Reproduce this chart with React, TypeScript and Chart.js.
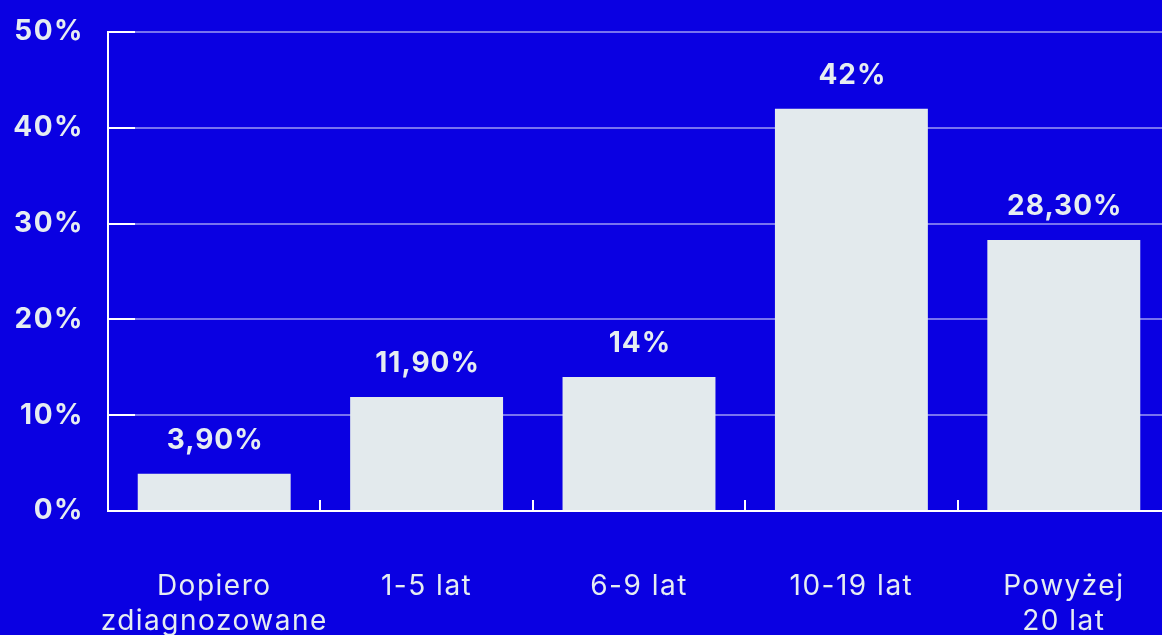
import React, { useEffect, useRef } from "react";
import { Chart, registerables } from "chart.js";

Chart.register(...registerables);

const categories: (string | string[])[] = [
  ["Dopiero", "zdiagnozowane"],
  "1-5 lat",
  "6-9 lat",
  "10-19 lat",
  ["Powyżej", "20 lat"],
];
const values: number[] = [3.9, 11.9, 14, 42, 28.3];
const valueLabels: string[] = ["3,90%", "11,90%", "14%", "42%", "28,30%"];
const yTicks: number[] = [0, 10, 20, 30, 40, 50];

const BG = "#0a00e2";
const BAR = "#e3eaed";
const TEXT = "#e6edf1";
const FONT = "Inter";

const decorPlugin = {
  id: "decor",
  afterDatasetsDraw(chart: any) {
    const { ctx, scales, chartArea } = chart;
    const x = scales.x;
    const y = scales.y;
    ctx.save();
    ctx.strokeStyle = "#ffffff";
    ctx.lineWidth = 2;
    yTicks.forEach((t) => {
      if (t === 0) return;
      const py = Math.round(y.getPixelForValue(t));
      ctx.beginPath();
      ctx.moveTo(chartArea.left, py);
      ctx.lineTo(chartArea.left + 27, py);
      ctx.stroke();
    });
    for (let i = 1; i < categories.length; i++) {
      const px = Math.round((x.getPixelForValue(i - 1) + x.getPixelForValue(i)) / 2);
      ctx.beginPath();
      ctx.moveTo(px, chartArea.bottom);
      ctx.lineTo(px, chartArea.bottom - 11);
      ctx.stroke();
    }
    const meta = chart.getDatasetMeta(0);
    ctx.fillStyle = TEXT;
    ctx.font = `700 28px ${FONT}`;
    (ctx as any).letterSpacing = "1px";
    ctx.textAlign = "center";
    ctx.textBaseline = "alphabetic";
    meta.data.forEach((bar: any, i: number) => {
      ctx.fillText(valueLabels[i], bar.x + 1, bar.y - 25);
    });
    ctx.restore();
  },
};

const bgPlugin = {
  id: "bg",
  beforeDraw(chart: any) {
    const { ctx, width, height } = chart;
    ctx.save();
    ctx.fillStyle = BG;
    ctx.fillRect(0, 0, width, height);
    ctx.restore();
    (ctx as any).letterSpacing = "1.5px";
  },
};

function zeroPad(scale: any) {
  scale.paddingLeft = 0;
  scale.paddingRight = 0;
  scale.paddingTop = 0;
  scale.paddingBottom = 0;
}

export default function App() {
  const ref = useRef<HTMLCanvasElement | null>(null);
  useEffect(() => {
    if (!ref.current) return;
    document.body.style.background = BG;
    const chart = new Chart(ref.current, {
      type: "bar",
      data: {
        labels: categories,
        datasets: [
          {
            data: values,
            backgroundColor: BAR,
            borderWidth: 0,
            barPercentage: 0.72,
            categoryPercentage: 1,
          },
        ],
      },
      options: {
        animation: false,
        responsive: false,
        maintainAspectRatio: false,
        devicePixelRatio: 1,
        layout: { padding: { top: 32, right: 0, left: 0, bottom: 0 } },
        plugins: {
          legend: { display: false },
          tooltip: { enabled: false },
        },
        scales: {
          x: {
            grid: { display: false, drawTicks: false },
            border: { display: true, color: "#ffffff", width: 2 },
            ticks: {
              color: TEXT,
              font: { family: FONT, size: 28, weight: "400", lineHeight: 1.25 },
              padding: 58,
              maxRotation: 0,
              autoSkip: false,
            },
            afterFit(scale: any) {
              scale.height = 124;
              zeroPad(scale);
            },
          },
          y: {
            min: 0,
            max: 50,
            afterBuildTicks(scale: any) {
              scale.ticks = yTicks.map((v) => ({ value: v }));
            },
            grid: {
              color: "rgba(255,255,255,0.45)",
              lineWidth: 2,
              drawTicks: false,
            },
            border: { display: true, color: "#ffffff", width: 2 },
            ticks: {
              color: TEXT,
              font: { family: FONT, size: 28, weight: "700" },
              padding: 24,
              callback: (v: any) => `${v}%`,
            },
            afterFit(scale: any) {
              scale.width = 108;
              zeroPad(scale);
            },
          },
        },
      },
      plugins: [bgPlugin, decorPlugin],
    });
    return () => chart.destroy();
  }, []);
  return (
    <div style={{ position: "fixed", left: 0, top: 0, width: 1170, height: 635, overflow: "hidden" }}>
      <canvas ref={ref} width={1170} height={635} style={{ display: "block", width: 1170, height: 635 }} />
    </div>
  );
}
